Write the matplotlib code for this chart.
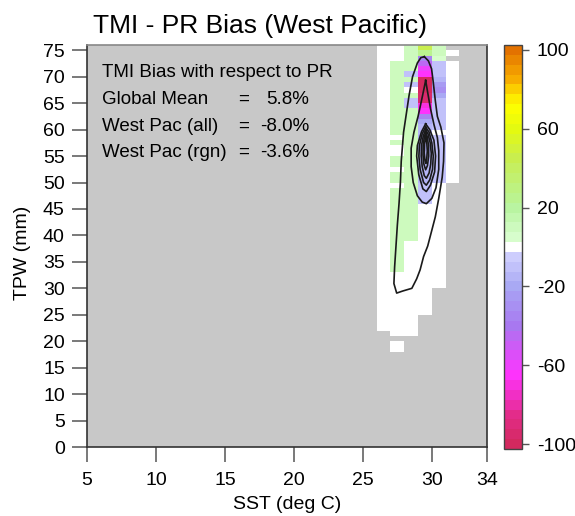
import numpy as np
import matplotlib
matplotlib.use("Agg")
import matplotlib.pyplot as plt
from matplotlib.colors import LinearSegmentedColormap, ListedColormap, BoundaryNorm

plt.rcParams['font.family'] = ['Liberation Sans', 'DejaVu Sans']
plt.rcParams['axes.unicode_minus'] = False

N = np.nan

# SST bins (deg C) and TPW bins (mm), lower edges of the 1x1 cells
sst_bins = [26, 27, 28, 29, 30, 31]
tpw_rows = list(range(75, 17, -1))   # 75 (top row) ... 18

# bias (%) per cell, one row per TPW bin from 75 down to 18, columns = sst_bins
bias = [
    [0, 0, 10, 45, 10, N],       # 75
    [0, 0, 10, 25, 10, 0],       # 74
    [0, 0, 10, -35, 5, N],       # 73
    [0, 10, 10, -45, -10, 0],    # 72
    [0, 10, 10, -60, -12, 0],    # 71
    [0, 10, -10, -65, -10, 0],   # 70
    [0, 10, 10, -100, -15, 0],   # 69
    [0, 10, -10, -100, -25, 0],  # 68
    [0, 10, 0, -100, -28, 0],    # 67
    [0, 10, 10, -95, -22, 0],    # 66
    [0, 10, -10, -95, -12, 0],   # 65
    [0, 10, -10, -70, -10, 0],   # 64
    [0, 10, 10, -65, -12, 0],    # 63
    [0, 10, 10, -35, -10, 0],    # 62
    [0, 10, 10, -18, -8, 0],     # 61
    [0, 10, 10, -15, -10, 0],    # 60
    [0, 10, 10, -15, 0, 0],      # 59
    [0, 0, 10, -18, -10, 0],     # 58
    [0, 10, 10, -15, -12, 0],    # 57
    [0, 0, 10, -18, -10, 0],     # 56
    [0, 0, 10, -15, -8, 0],      # 55
    [0, 10, 10, -15, -10, 0],    # 54
    [0, 10, 10, -15, -10, 0],    # 53
    [0, 0, 10, -15, -8, 0],      # 52
    [0, 10, 10, -15, -10, 0],    # 51
    [0, 10, 10, -15, -8, 0],     # 50
    [0, 0, 10, -12, 0, N],       # 49
    [0, 10, 10, -12, 0, N],      # 48
    [0, 10, 10, -10, 0, N],      # 47
    [0, 10, 10, -10, 0, N],      # 46
    [0, 10, 10, 0, 0, N],        # 45
    [0, 10, 10, 0, 0, N],        # 44
    [0, 10, 10, 0, 0, N],        # 43
    [0, 10, 10, 0, 0, N],        # 42
    [0, 10, 10, 0, 0, N],        # 41
    [0, 10, 10, 0, 0, N],        # 40
    [0, 10, 10, 0, 0, N],        # 39
    [0, 10, 0, 0, 0, N],         # 38
    [0, 10, 0, 0, 0, N],         # 37
    [0, 10, 0, 0, 0, N],         # 36
    [0, 10, 0, 0, 0, N],         # 35
    [0, 10, 0, 0, 0, N],         # 34
    [0, 10, 0, 0, 0, N],         # 33
    [0, 0, 0, 0, 0, N],          # 32
    [0, 0, 0, 0, 0, N],          # 31
    [0, 0, 0, 0, 0, N],          # 30
    [0, 0, 0, 0, N, N],          # 29
    [0, 0, 0, 0, N, N],          # 28
    [0, 0, 0, 0, N, N],          # 27
    [0, 0, 0, 0, N, N],          # 26
    [0, 0, 0, 0, N, N],          # 25
    [0, 0, 0, N, N, N],          # 24
    [0, 0, 0, N, N, N],          # 23
    [0, 0, 0, N, N, N],          # 22
    [N, 0, 0, N, N, N],          # 21
    [N, N, N, N, N, N],          # 20
    [N, 0, N, N, N, N],          # 19
    [N, 0, N, N, N, N],          # 18
]

# sample-density contours (SST, TPW), outer to inner
contour_outer = [(29.45, 73.8), (29.75, 73.0), (29.98, 71.5), (30.1, 69.0), (30.25, 65.5),
                 (30.4, 62.5), (30.65, 60.5), (30.88, 57.5), (30.85, 54.0), (30.75, 51.0),
                 (30.5, 47.0), (30.25, 43.5), (30.0, 41.0), (29.7, 38.0), (29.4, 36.0),
                 (29.15, 33.5), (28.9, 31.8), (28.55, 30.0), (27.9, 29.5), (27.45, 29.1),
                 (27.25, 30.9), (27.3, 34.0), (27.4, 38.0), (27.5, 42.0), (27.62, 46.0),
                 (27.72, 50.0), (27.78, 54.0), (27.95, 59.5), (28.15, 63.0), (28.35, 66.5),
                 (28.6, 70.0), (28.95, 72.6), (29.2, 73.6), (29.45, 73.8)]
contour_2 = [(29.55, 69.3), (29.7, 67.0), (29.9, 64.0), (30.15, 61.0), (30.4, 58.5), (30.5, 56.0),
             (30.5, 52.5), (30.3, 49.0), (30.0, 47.0), (29.6, 46.0), (29.3, 46.3), (28.95, 47.5),
             (28.65, 50.0), (28.5, 53.0), (28.5, 56.5), (28.7, 59.5), (29.0, 62.5), (29.25, 65.5),
             (29.45, 68.0), (29.55, 69.3)]
contour_3 = [(29.55, 61.1), (29.25, 59.6), (28.95, 57.0), (28.9, 55.0), (29.05, 51.5), (29.35, 48.8),
             (29.6, 48.3), (29.9, 49.5), (30.2, 52.0), (30.27, 55.0), (30.15, 58.0), (29.85, 60.0),
             (29.55, 61.1)]
contour_4 = [(29.55, 60.5), (29.3, 59.2), (29.1, 57.0), (29.06, 55.0), (29.15, 52.5), (29.4, 50.0),
             (29.6, 49.5), (29.85, 50.5), (30.05, 52.5), (30.1, 55.0), (30.0, 57.5), (29.8, 59.5),
             (29.55, 60.5)]
contour_5 = [(29.55, 60.0), (29.38, 58.8), (29.25, 57.0), (29.23, 55.0), (29.3, 53.0), (29.45, 51.3),
             (29.6, 50.8), (29.8, 51.8), (29.92, 53.5), (29.96, 55.5), (29.88, 57.5), (29.72, 59.2),
             (29.55, 60.0)]
contour_6 = [(29.55, 59.5), (29.45, 58.5), (29.37, 57.0), (29.36, 55.2), (29.42, 53.5), (29.55, 52.4),
             (29.68, 53.2), (29.77, 55.0), (29.76, 57.0), (29.66, 58.7), (29.55, 59.5)]
contour_7 = [(29.55, 58.8), (29.47, 57.2), (29.45, 55.6), (29.5, 54.2), (29.57, 53.6), (29.63, 54.5),
             (29.67, 56.0), (29.63, 57.6), (29.55, 58.8)]
contours = [contour_outer, contour_2, contour_3, contour_4, contour_5, contour_6, contour_7]

info_labels = ["Global Mean", "West Pac (all)", "West Pac (rgn)"]
info_values = ["5.8%", "-8.0%", "-3.6%"]
cbar_ticks = [-100, -60, -20, 20, 60, 100]

##
## Colour scale: 41 steps of 5 %, white step centred on 0
##
anchors = [(-102.5, '#d02858'), (-85, '#e42c8c'), (-65, '#ff33ff'), (-40, '#a878f0'),
           (-20, '#a8a8f4'), (-2.5, '#d4d4ff'), (2.5, '#ddffd4'), (20, '#b8f4a0'),
           (45, '#c8ee50'), (60, '#e4fa10'), (72, '#ffff00'), (85, '#f8b000'), (102.5, '#e06800')]
smooth = LinearSegmentedColormap.from_list(
    'bias', [((v + 102.5) / 205.0, c) for v, c in anchors])
centers = np.arange(-100, 101, 5)
colors = smooth((centers + 102.5) / 205.0)
colors[20] = (1, 1, 1, 1)
cmap = ListedColormap(colors)
cmap.set_bad((0, 0, 0, 0))
norm = BoundaryNorm(np.arange(-102.5, 103, 5), cmap.N)

fig = plt.figure(figsize=(5.75, 5.16), dpi=100)
ax = fig.add_axes([0.1513, 0.1337, 0.6957, 0.7791])
cax = fig.add_axes([0.8765, 0.1298, 0.0308, 0.7830])

ax.set_facecolor('#c8c8c8')

grid = np.ma.masked_invalid(np.array(bias, dtype=float)[::-1])
sst_edges = sst_bins + [sst_bins[-1] + 1]
tpw_edges = tpw_rows[::-1] + [tpw_rows[0] + 1]
mesh = ax.pcolormesh(sst_edges, tpw_edges, grid, cmap=cmap, norm=norm)

for c in contours:
    xs, ys = zip(*c)
    ax.plot(xs, ys, color='#1a1a1a', lw=1.2)

ax.set_xlim(5, 34)
ax.set_ylim(0, 76)
ax.set_xticks([5, 10, 15, 20, 25, 30, 34])
ax.set_yticks(range(0, 76, 5))
ax.tick_params(direction='out', length=11, width=1.1, color='#555555',
               labelsize=14, pad=5)
ax.tick_params(axis='x', pad=7)
for side in ['left', 'bottom', 'right']:
    ax.spines[side].set_color('#333333')
    ax.spines[side].set_linewidth(1.2)
ax.spines['top'].set_color('#888888')
ax.spines['top'].set_linewidth(1.2)

ax.set_xlabel('SST (deg C)', fontsize=14)
ax.xaxis.set_label_coords(0.5, -0.122)
ax.set_ylabel('TPW (mm)', fontsize=14)
ax.yaxis.set_label_coords(-0.14, 0.483)

# summary text in the upper left
ax.text(6.09, 70.0, 'TMI Bias with respect to PR', fontsize=13.5, va='baseline')
for i, (lab, val) in enumerate(zip(info_labels, info_values)):
    y = 64.8 - 5.0 * i
    ax.text(6.09, y, lab, fontsize=13.5, va='baseline')
    ax.text(16.33, y, '=', fontsize=13.5, va='baseline', ha='center')
    ax.text(21.13, y, val, fontsize=13.5, va='baseline', ha='right')

fig.text(260 / 575, 1 - 33 / 516, 'TMI - PR Bias (West Pacific)', fontsize=19,
         ha='center', va='baseline')

cb = fig.colorbar(mesh, cax=cax, ticks=cbar_ticks)
cb.minorticks_off()
cb.outline.set_edgecolor('#444444')
cb.outline.set_linewidth(1.0)
cax.tick_params(direction='out', length=5, width=1.0, color='#555555',
                labelsize=14, pad=6)

fig.savefig('out.png', dpi=100)
